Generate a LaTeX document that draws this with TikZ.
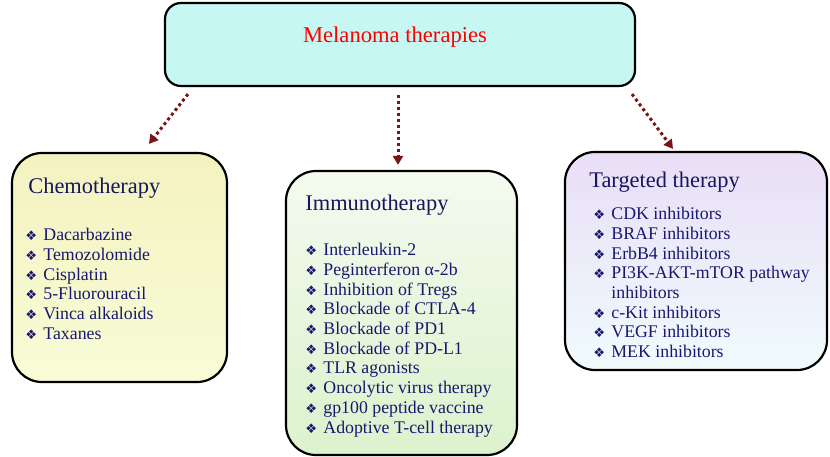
\documentclass[tikz,border=0pt]{standalone}
\usepackage{fontspec}
\setmainfont{Liberation Serif}
\newfontfamily\symfont{DejaVu Sans}
\usetikzlibrary{arrows.meta}

\definecolor{topfill}{HTML}{C6F7F2}
\definecolor{chemotop}{HTML}{F4F2C0}
\definecolor{chemobot}{HTML}{F8FCD6}
\definecolor{immunotop}{HTML}{F4FAF0}
\definecolor{immunobot}{HTML}{DCF2CC}
\definecolor{targettop}{HTML}{E9DEF6}
\definecolor{targetbot}{HTML}{F0FBFD}
\definecolor{headblue}{HTML}{16165E}
\definecolor{itemblue}{HTML}{18186E}
\definecolor{arrred}{HTML}{7A1418}

\newcommand{\itm}[1]{\makebox[9pt][l]{\symfont\fontsize{6.6}{7}\selectfont ❖}#1}

\begin{document}
\begin{tikzpicture}[x=0.5pt,y=-0.5pt,
		box/.style={draw=black, line width=1.1pt, rounded corners=15pt, inner sep=0pt},
		head/.style={text=headblue, font=\fontsize{11.2}{13}\selectfont, inner sep=0pt, anchor=base west},
		list/.style={text=itemblue, font=\fontsize{8.9}{9.85}\selectfont, align=left, inner sep=0pt, anchor=north west},
		arr/.style={draw=arrred, line width=1.5pt, dash pattern=on 1.5pt off 1.5pt, -{Triangle[width=5pt,length=4.5pt]}}]
		\useasboundingbox (0,0) rectangle (830,456);

		\node[box, rounded corners=8pt, fill=topfill, minimum width=235pt, minimum height=41.5pt] (top) at (400,44.5) {};
		\node[text=red, font=\fontsize{11.3}{13}\selectfont, inner sep=0pt, anchor=base] (title) at (395,42) {Melanoma therapies};

		\node[box, top color=chemotop, bottom color=chemobot, minimum width=107.5pt, minimum height=114.5pt] (chemo) at (119.5,267.5) {};
		\node[box, top color=immunotop, bottom color=immunobot, minimum width=115.5pt, minimum height=142pt] (immuno) at (401.5,313) {};
		\node[box, top color=targettop, bottom color=targetbot, minimum width=131pt, minimum height=109pt] (target) at (696,261) {};

		\node[head] (chemohead) at (28,193) {Chemotherapy};
		\node[head] (immunohead) at (305,210) {Immunotherapy};
		\node[head] (targethead) at (589,187) {Targeted therapy};

		\node[list] (chemolist) at (25,228) {\itm{Dacarbazine}\\ \itm{Temozolomide}\\ \itm{Cisplatin}\\
			\itm{5-Fluorouracil}\\ \itm{Vinca alkaloids}\\ \itm{Taxanes}};
		\node[list] (immunolist) at (305,243) {\itm{Interleukin-2}\\ \itm{Peginterferon α-2b}\\ \itm{Inhibition of Tregs}\\
			\itm{Blockade of CTLA-4}\\ \itm{Blockade of PD1}\\ \itm{Blockade of PD-L1}\\ \itm{TLR agonists}\\
			\itm{Oncolytic virus therapy}\\ \itm{gp100 peptide vaccine}\\ \itm{Adoptive T-cell therapy}};
		\node[list] (targetlist) at (593,207) {\itm{CDK inhibitors}\\ \itm{BRAF inhibitors}\\ \itm{ErbB4 inhibitors}\\
			\itm{PI3K-AKT-mTOR pathway}\\ \hspace*{9pt}inhibitors\\ \itm{c-Kit inhibitors}\\ \itm{VEGF inhibitors}\\
			\itm{MEK inhibitors}};

		\draw[arr] ([xshift=-106pt,yshift=-3.5pt]top.south) -- ([xshift=14.75pt,yshift=4pt]chemo.north);
		\draw[arr] ([xshift=-1pt,yshift=-4pt]top.south) -- ([xshift=-1.75pt,yshift=2.5pt]immuno.north);
		\draw[arr] ([xshift=116pt,yshift=-3.5pt]top.south) -- ([xshift=-11.5pt,yshift=1pt]target.north);
	\end{tikzpicture}
\end{document}
